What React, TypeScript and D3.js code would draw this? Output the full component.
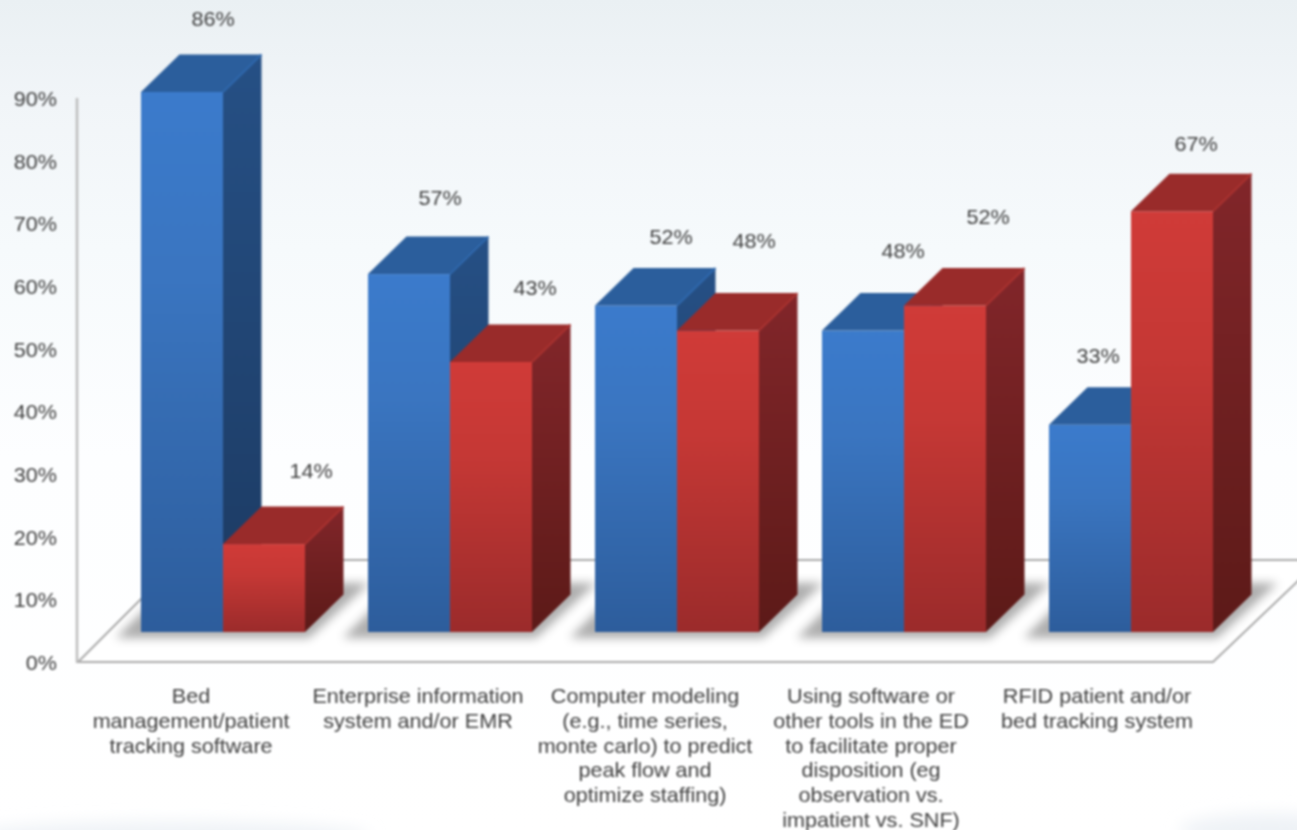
import React from "react";
import * as d3 from "d3";

const categories = [
  ["Bed", "management/patient", "tracking software"],
  ["Enterprise information", "system and/or EMR"],
  ["Computer modeling", "(e.g., time series,", "monte carlo) to predict", "peak flow and", "optimize staffing)"],
  ["Using software or", "other tools in the ED", "to facilitate proper", "disposition (eg", "observation vs.", "impatient vs. SNF)"],
  ["RFID patient and/or", "bed tracking system"],
];
const blueValues = [86, 57, 52, 48, 33];
const redValues = [14, 43, 48, 52, 67];
const yTicks = [0, 10, 20, 30, 40, 50, 60, 70, 80, 90];

// label placement relative to the top front-centre of each bar
const blueNudge = [[31, -73], [31, -76], [35, -68], [40, -80], [8, -69]];
const redNudge = [[47, -73], [44, -74], [36, -90], [43, -88], [24, -67]];
// category label centre relative to the centre of its bar pair
const categoryNudge = [-32, -32, -32, -33, -34];

const W = 1297, H = 830;
const DX = 38.5, DY = -37.5;
const FONT = "'Liberation Sans', Arial, sans-serif";
const TEXT = "#3f3f3f";
const STRETCH = 1.08;

const band = d3.scaleBand<number>().domain(d3.range(5)).range([141, 1213]).paddingInner(63 / 227).paddingOuter(0);
const yBar = d3.scaleLinear().domain([0, 86]).range([632, 92]);
const yAxis = d3.scaleLinear().domain([0, 90]).range([662, 98]);

type Palette = { front: string; side: string; top: string; edge: string };
const BLUE: Palette = { front: "url(#blueFront)", side: "url(#blueSide)", top: "#2b5e9c", edge: "#2f68ad" };
const RED: Palette = { front: "url(#redFront)", side: "url(#redSide)", top: "#992b2a", edge: "#a93230" };

function Bar({ x, w, v, p }: { x: number; w: number; v: number; p: Palette }) {
  const y = yBar(v), b = yBar(0), r = x + w;
  const pts = (a: number[][]) => a.map((c) => c.join(",")).join(" ");
  return (
    <g>
      <rect x={x} y={y} width={w} height={b - y} fill={p.front} />
      <polygon points={pts([[r, y], [r + DX, y + DY], [r + DX, b + DY], [r, b]])} fill={p.side} />
      <polygon points={pts([[x, y], [x + DX, y + DY], [r + DX, y + DY], [r, y]])} fill={p.top} />
      <line x1={r} y1={y} x2={r + DX} y2={y + DY} stroke={p.edge} strokeWidth={2} />
    </g>
  );
}

function Stretched({ x, y, size, children }: { x: number; y: number; size: number; children: React.ReactNode }) {
  return (
    <text transform={`translate(${x},${y}) scale(${STRETCH},1)`} textAnchor="middle" fontSize={size} fill={TEXT}>
      {children}
    </text>
  );
}

export default function App() {
  const bw = band.bandwidth() / 2;
  const floor = [[78, 662], [1213, 662], [1320, 560], [180, 560]].map((c) => c.join(",")).join(" ");
  return (
    <svg width={W} height={H} style={{ position: "absolute", left: 0, top: 0 }} fontFamily={FONT}>
      <defs>
        <linearGradient id="bg" x1="0" y1="0" x2="0" y2="1">
          <stop offset="0" stopColor="#eaf0f3" />
          <stop offset="0.12" stopColor="#f1f5f8" />
          <stop offset="0.3" stopColor="#f6fafc" />
          <stop offset="0.55" stopColor="#fdfeff" />
          <stop offset="1" stopColor="#ffffff" />
        </linearGradient>
        <linearGradient id="blueFront" x1="0" y1="0" x2="0" y2="1">
          <stop offset="0" stopColor="#3b7bcc" />
          <stop offset="0.35" stopColor="#3a75c0" />
          <stop offset="1" stopColor="#2d5d9c" />
        </linearGradient>
        <linearGradient id="blueSide" x1="0" y1="0" x2="0" y2="1">
          <stop offset="0" stopColor="#265085" />
          <stop offset="1" stopColor="#1c3a62" />
        </linearGradient>
        <linearGradient id="redFront" x1="0" y1="0" x2="0" y2="1">
          <stop offset="0" stopColor="#d03b38" />
          <stop offset="0.35" stopColor="#c53835" />
          <stop offset="1" stopColor="#9b2b2b" />
        </linearGradient>
        <linearGradient id="redSide" x1="0" y1="0" x2="0" y2="1">
          <stop offset="0" stopColor="#82262a" />
          <stop offset="1" stopColor="#5c1a18" />
        </linearGradient>
        <filter id="shadow" x="-30%" y="-60%" width="160%" height="220%">
          <feGaussianBlur stdDeviation="5" />
        </filter>
        <filter id="soft" x="-50%" y="-100%" width="200%" height="300%">
          <feGaussianBlur stdDeviation="8" />
        </filter>
      </defs>
      <rect width={W} height={H} fill="url(#bg)" />
      <ellipse cx={170} cy={836} rx={200} ry={14} fill="#eef2f6" filter="url(#soft)" />
      <ellipse cx={1270} cy={830} rx={90} ry={16} fill="#eef2f6" filter="url(#soft)" />

      <g style={{ filter: "blur(0.8px)" }}>
        <polygon points={floor} fill="#ffffff" stroke="#aaaaaa" strokeWidth={2} />
        <line x1={77} y1={yAxis(90)} x2={77} y2={yAxis(0)} stroke="#bdbdbd" strokeWidth={2.5} />

        {yTicks.map((t) => (
          <text key={t} transform={`translate(57,${yAxis(t) + 8}) scale(${STRETCH},1)`} textAnchor="end" fontSize={20} fill={TEXT}>{t}%</text>
        ))}

        {d3.range(5).map((i) => {
          const x0 = band(i)!, x1 = x0 + band.bandwidth();
          const sh = [[x0 - 25, 638], [x1 + 4, 638], [x1 + DX + 26, 583], [x0 + 30, 583]].map((c) => c.join(",")).join(" ");
          return <polygon key={i} points={sh} fill="#777777" opacity={0.6} filter="url(#shadow)" />;
        })}

        {d3.range(5).map((i) => {
          const x0 = band(i)!;
          return (
            <g key={i}>
              <Bar x={x0} w={bw} v={blueValues[i]} p={BLUE} />
              <Bar x={x0 + bw} w={bw} v={redValues[i]} p={RED} />
            </g>
          );
        })}

        {d3.range(5).map((i) => {
          const x0 = band(i)!;
          return (
            <g key={i}>
              <Stretched x={x0 + bw / 2 + blueNudge[i][0]} y={yBar(blueValues[i]) + blueNudge[i][1] + 7} size={20}>{blueValues[i]}%</Stretched>
              <Stretched x={x0 + bw * 1.5 + redNudge[i][0]} y={yBar(redValues[i]) + redNudge[i][1] + 7} size={20}>{redValues[i]}%</Stretched>
            </g>
          );
        })}

        {categories.map((lines, i) => {
          const cx = band(i)! + band.bandwidth() / 2 + categoryNudge[i];
          return (
            <g key={i}>
              {lines.map((l, j) => (
                <Stretched key={j} x={cx} y={703 + j * 24.8} size={20}>{l}</Stretched>
              ))}
            </g>
          );
        })}
      </g>
    </svg>
  );
}
